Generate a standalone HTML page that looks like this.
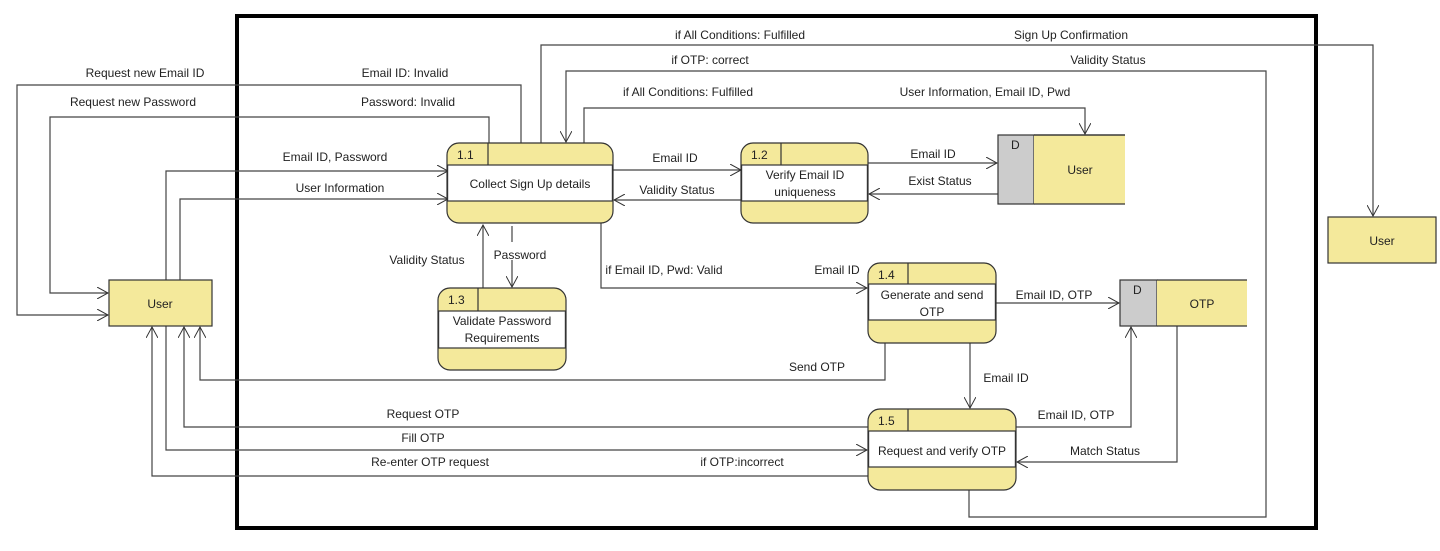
<!DOCTYPE html>
<html><head><meta charset="utf-8"><style>
html,body{margin:0;padding:0;background:#fff;}
svg{display:block;}
text{font-family:"Liberation Sans",sans-serif;font-size:12px;fill:#222;}
</style></head><body>
<svg width="1440" height="551" viewBox="0 0 1440 551" xmlns="http://www.w3.org/2000/svg">
<defs>
<marker id="a" viewBox="0 0 12 12" refX="11" refY="6" markerWidth="12" markerHeight="12" markerUnits="userSpaceOnUse" orient="auto">
<path d="M0,0 L11,6 L0,12" fill="none" stroke="#333" stroke-width="1"/>
</marker>
</defs>
<rect x="237" y="16" width="1079" height="512" fill="none" stroke="#000" stroke-width="4"/>
<g fill="none" stroke="#444" stroke-width="1.2">
<!-- left loops -->
<polyline points="521,143 521,85 17,85 17,315 108,315" marker-end="url(#a)"/>
<polyline points="489,143 489,117 50,117 50,293 108,293" marker-end="url(#a)"/>
<polyline points="166,280 166,171 448,171" marker-end="url(#a)"/>
<polyline points="180,280 180,199 448,199" marker-end="url(#a)"/>
<!-- top -->
<polyline points="541,143 541,45 1373,45 1373,216" marker-end="url(#a)"/>
<polyline points="969,490 969,517 1266,517 1266,71 566,71 566,142" marker-end="url(#a)"/>
<polyline points="584,143 584,108 1085,108 1085,134" marker-end="url(#a)"/>
<!-- 1.1 - 1.2 -->
<polyline points="613,170 741,170" marker-end="url(#a)"/>
<polyline points="742,200 614,200" marker-end="url(#a)"/>
<polyline points="868,163 997,163" marker-end="url(#a)"/>
<polyline points="998,194 869,194" marker-end="url(#a)"/>
<!-- 1.3 -->
<polyline points="483,288 483,225" marker-end="url(#a)"/>
<polyline points="512,226 512,242"/>
<polyline points="512,260 512,287" marker-end="url(#a)"/>
<polyline points="601,223 601,288 867,288" marker-end="url(#a)"/>
<!-- 1.4 -->
<polyline points="996,303 1119,303" marker-end="url(#a)"/>
<polyline points="885,343 885,380 200,380 200,327" marker-end="url(#a)"/>
<polyline points="970,343 970,408" marker-end="url(#a)"/>
<!-- 1.5 -->
<polyline points="1016,427 1131,427 1131,327" marker-end="url(#a)"/>
<polyline points="1177,326 1177,462 1017,462" marker-end="url(#a)"/>
<polyline points="868,427 184,427 184,327" marker-end="url(#a)"/>
<polyline points="166,326 166,450 867,450" marker-end="url(#a)"/>
<polyline points="868,476 152,476 152,327" marker-end="url(#a)"/>
</g>
<!-- processes -->
<g stroke="#333" stroke-width="1.2">
<rect x="447" y="143" width="166" height="80" rx="12" fill="#f4e99b"/>
<rect x="447.6" y="165" width="164.8" height="36" fill="#fff"/>
<line x1="488" y1="143" x2="488" y2="165"/>
<rect x="741" y="143" width="127" height="80" rx="12" fill="#f4e99b"/>
<rect x="741.6" y="165" width="125.8" height="36" fill="#fff"/>
<line x1="781" y1="143" x2="781" y2="165"/>
<rect x="438" y="288" width="128" height="82" rx="12" fill="#f4e99b"/>
<rect x="438.6" y="311" width="126.8" height="37" fill="#fff"/>
<line x1="478" y1="288" x2="478" y2="311"/>
<rect x="868" y="263" width="128" height="80" rx="12" fill="#f4e99b"/>
<rect x="868.6" y="284" width="126.8" height="36" fill="#fff"/>
<line x1="908" y1="263" x2="908" y2="284"/>
<rect x="868" y="409" width="148" height="81" rx="12" fill="#f4e99b"/>
<rect x="868.6" y="431" width="146.8" height="36" fill="#fff"/>
<line x1="908" y1="409" x2="908" y2="431"/>
<!-- externals -->
<rect x="109" y="280" width="103" height="46" fill="#f4e99b"/>
<rect x="1328" y="217" width="108" height="46" fill="#f4e99b"/>
<!-- stores -->
<rect x="998" y="135" width="36" height="69" fill="#ccc"/>
<rect x="1034" y="135" width="91" height="69" fill="#f4e99b" stroke="none"/>
<polyline points="1034,135 1125,135 M1034,204" fill="none"/>
<line x1="1034" y1="135" x2="1125" y2="135"/><line x1="1034" y1="204" x2="1125" y2="204"/>
<rect x="1120" y="280" width="37" height="46" fill="#ccc"/>
<rect x="1157" y="280" width="90" height="46" fill="#f4e99b" stroke="none"/>
<line x1="1157" y1="280" x2="1247" y2="280"/><line x1="1157" y1="326" x2="1247" y2="326"/>
</g>
<g>
<text x="457" y="159" font-size="11">1.1</text>
<text x="530" y="188" text-anchor="middle">Collect Sign Up details</text>
<text x="751" y="159" font-size="11">1.2</text>
<text x="805" y="179" text-anchor="middle">Verify Email ID</text>
<text x="805" y="196" text-anchor="middle">uniqueness</text>
<text x="448" y="304" font-size="11">1.3</text>
<text x="502" y="325" text-anchor="middle">Validate Password</text>
<text x="502" y="342" text-anchor="middle">Requirements</text>
<text x="878" y="279" font-size="11">1.4</text>
<text x="932" y="299" text-anchor="middle">Generate and send</text>
<text x="932" y="316" text-anchor="middle">OTP</text>
<text x="878" y="425" font-size="11">1.5</text>
<text x="942" y="455" text-anchor="middle">Request and verify OTP</text>
<text x="160" y="308" text-anchor="middle">User</text>
<text x="1382" y="245" text-anchor="middle">User</text>
<text x="1011" y="149">D</text>
<text x="1080" y="174" text-anchor="middle">User</text>
<text x="1133" y="294">D</text>
<text x="1202" y="308" text-anchor="middle">OTP</text>
<!-- labels -->
<text x="145" y="77" text-anchor="middle">Request new Email ID</text>
<text x="405" y="77" text-anchor="middle">Email ID: Invalid</text>
<text x="133" y="106" text-anchor="middle">Request new Password</text>
<text x="408" y="106" text-anchor="middle">Password: Invalid</text>
<text x="335" y="161" text-anchor="middle">Email ID, Password</text>
<text x="340" y="192" text-anchor="middle">User Information</text>
<text x="740" y="39" text-anchor="middle">if All Conditions: Fulfilled</text>
<text x="1071" y="39" text-anchor="middle">Sign Up Confirmation</text>
<text x="710" y="64" text-anchor="middle">if OTP: correct</text>
<text x="1108" y="64" text-anchor="middle">Validity Status</text>
<text x="688" y="96" text-anchor="middle">if All Conditions: Fulfilled</text>
<text x="985" y="96" text-anchor="middle">User Information, Email ID, Pwd</text>
<text x="675" y="162" text-anchor="middle">Email ID</text>
<text x="677" y="194" text-anchor="middle">Validity Status</text>
<text x="933" y="158" text-anchor="middle">Email ID</text>
<text x="940" y="185" text-anchor="middle">Exist Status</text>
<text x="427" y="264" text-anchor="middle">Validity Status</text>
<text x="520" y="259" text-anchor="middle">Password</text>
<text x="664" y="274" text-anchor="middle">if Email ID, Pwd: Valid</text>
<text x="837" y="274" text-anchor="middle">Email ID</text>
<text x="1054" y="299" text-anchor="middle">Email ID, OTP</text>
<text x="817" y="371" text-anchor="middle">Send OTP</text>
<text x="1006" y="382" text-anchor="middle">Email ID</text>
<text x="1076" y="419" text-anchor="middle">Email ID, OTP</text>
<text x="1105" y="455" text-anchor="middle">Match Status</text>
<text x="423" y="418" text-anchor="middle">Request OTP</text>
<text x="423" y="442" text-anchor="middle">Fill OTP</text>
<text x="430" y="466" text-anchor="middle">Re-enter OTP request</text>
<text x="742" y="466" text-anchor="middle">if OTP:incorrect</text>
</g>
</svg>
</body></html>
